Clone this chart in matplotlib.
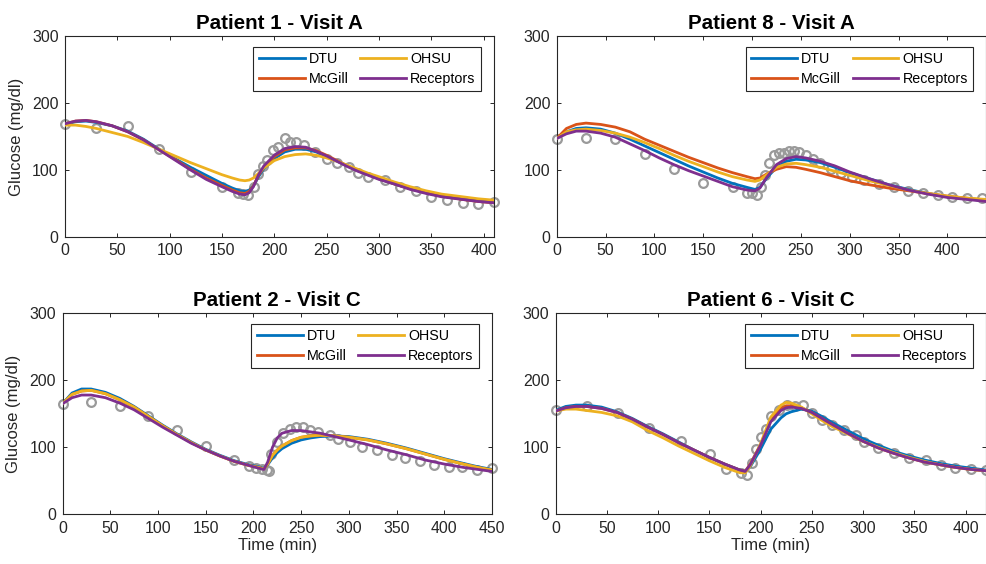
import numpy as np
import matplotlib
matplotlib.use("Agg")
import matplotlib.pyplot as plt

plt.rcParams['font.family'] = ['Liberation Sans', 'DejaVu Sans']

# model colours (DTU, McGill, OHSU, Receptors)
models = ['DTU', 'McGill', 'OHSU', 'Receptors']
colors = ['#0072BD', '#D95319', '#EDB120', '#7E2F8E']
obs_color = '#9a9a9a'
ink = '#262626'

# ---------------- Patient 1 - Visit A ----------------
p1_obs_t = [0, 30, 60, 90, 120, 150, 165, 170, 175, 181, 184, 189, 193, 199, 204, 210, 215, 221,
            228, 239, 250, 260, 271, 280, 290, 306, 320, 335, 350, 365, 380, 395, 410]
p1_obs_g = [169, 162, 165, 131, 97, 74, 66, 64, 62, 74, 94, 106, 115, 130, 135, 148, 142, 142,
            137, 127, 117, 110, 105, 95, 90, 85, 75, 69, 60, 55, 51, 50, 52]
p1_t = [0, 10, 20, 30, 45, 60, 75, 90, 105, 120, 135, 150, 160, 167, 172, 176, 180, 185, 190, 200,
        210, 220, 230, 240, 250, 260, 270, 280, 290, 300, 315, 330, 345, 360, 380, 395, 410]
p1_dtu = [168, 172, 173, 171, 166, 158, 146, 131, 117, 104, 92, 80, 73, 69, 68, 70, 76, 90, 102, 117,
          127, 131, 131, 127, 120, 113, 106, 99, 93, 87, 79, 72, 66, 61, 57, 54, 52]
p1_mcgill = [169, 173, 174, 172, 166, 157, 145, 130, 116, 101, 88, 77, 70, 66, 65, 68, 76, 92, 104, 120,
             130, 133, 133, 129, 122, 114, 106, 99, 93, 87, 79, 72, 66, 61, 56, 53, 51]
p1_ohsu = [167, 167, 165, 162, 156, 150, 141, 131, 121, 111, 102, 93, 88, 85, 84, 85, 88, 95, 103, 114,
           120, 123, 124, 122, 118, 113, 107, 101, 95, 90, 82, 75, 69, 64, 60, 57, 55]
p1_rec = [169, 173, 174, 172, 166, 157, 145, 130, 115, 100, 86, 75, 68, 64, 63, 66, 75, 93, 106, 122,
          132, 135, 134, 128, 121, 113, 105, 98, 92, 86, 79, 71, 65, 60, 56, 53, 51]

# ---------------- Patient 8 - Visit A ----------------
p8_obs_t = [0, 30, 60, 90, 120, 150, 180, 195, 200, 205, 209, 213, 217, 222, 228, 233, 238, 243,
            248, 255, 262, 270, 281, 291, 302, 315, 330, 345, 360, 375, 390, 405, 420, 435]
p8_obs_g = [147, 148, 146, 124, 101, 81, 74, 66, 65, 63, 74, 92, 110, 122, 125, 126, 128, 129,
            127, 122, 117, 110, 102, 95, 90, 85, 79, 74, 69, 66, 63, 60, 58, 58]
p8_t = [0, 10, 20, 30, 45, 60, 75, 90, 105, 120, 135, 150, 165, 180, 195, 203, 208, 215, 225, 235,
        245, 255, 270, 285, 300, 320, 340, 360, 380, 400, 420, 440]
p8_dtu = [147, 157, 162, 163, 161, 155, 146, 136, 126, 116, 106, 97, 88, 80, 74, 71, 74, 88, 104, 113,
          116, 115, 111, 104, 96, 87, 78, 71, 65, 60, 57, 54]
p8_mcgill = [147, 162, 168, 170, 168, 164, 157, 146, 137, 128, 119, 111, 103, 96, 90, 87, 88, 94, 101, 105,
             104, 101, 96, 90, 84, 78, 73, 69, 65, 61, 58, 55]
p8_ohsu = [147, 157, 160, 161, 159, 155, 149, 141, 132, 122, 113, 105, 97, 90, 85, 83, 85, 93, 104, 109,
           110, 108, 104, 98, 92, 84, 77, 70, 65, 61, 58, 56]
p8_rec = [147, 154, 158, 158, 155, 149, 139, 129, 118, 108, 99, 91, 83, 75, 70, 69, 73, 89, 108, 117,
          120, 118, 113, 106, 97, 87, 78, 70, 64, 59, 56, 53]

# ---------------- Patient 2 - Visit C ----------------
p2_obs_t = [0, 30, 60, 90, 120, 150, 180, 195, 203, 209, 214, 216, 218, 225, 231, 238, 245, 252,
            259, 268, 280, 289, 301, 314, 329, 345, 359, 375, 389, 405, 419, 434, 450]
p2_obs_g = [165, 168, 161, 146, 126, 102, 81, 72, 69, 67, 66, 65, 90, 108, 121, 128, 131, 130,
            126, 123, 118, 113, 108, 101, 96, 89, 84, 79, 73, 70, 71, 66, 69]
p2_t = [0, 10, 20, 30, 45, 60, 75, 90, 105, 120, 135, 150, 165, 180, 195, 205, 211, 215, 220, 225,
        230, 240, 250, 260, 270, 285, 300, 320, 340, 360, 380, 400, 420, 435, 450]
p2_dtu = [165, 181, 187, 187, 182, 173, 161, 147, 133, 120, 108, 97, 88, 80, 74, 71, 69, 74, 84, 92,
          98, 106, 111, 114, 116, 117, 116, 112, 106, 99, 91, 83, 76, 71, 67]
p2_mcgill = [165, 179, 184, 185, 180, 171, 160, 146, 132, 119, 107, 96, 87, 79, 73, 70, 68, 75, 88, 96,
             102, 110, 115, 117, 118, 117, 115, 111, 105, 98, 90, 82, 75, 70, 66]
p2_ohsu = [165, 179, 184, 185, 180, 171, 160, 146, 132, 119, 107, 96, 87, 79, 73, 70, 68, 75, 88, 96,
           102, 110, 115, 117, 118, 117, 115, 111, 105, 98, 90, 82, 75, 70, 66]
p2_rec = [165, 174, 178, 178, 174, 166, 156, 143, 130, 118, 106, 96, 87, 79, 73, 69, 67, 78, 100, 114,
          121, 125, 125, 123, 121, 116, 111, 104, 96, 89, 81, 75, 70, 67, 64]

# ---------------- Patient 6 - Visit C ----------------
p6_obs_t = [0, 31, 61, 91, 122, 151, 166, 181, 187, 192, 196, 200, 205, 210, 218, 226, 234, 241,
            250, 260, 270, 281, 293, 301, 315, 330, 345, 361, 376, 390, 405, 420]
p6_obs_g = [155, 162, 151, 129, 109, 90, 67, 62, 59, 76, 97, 116, 128, 146, 156, 163, 162, 163,
            151, 141, 133, 126, 118, 108, 99, 91, 84, 81, 74, 69, 67, 66]
p6_t = [0, 10, 20, 30, 45, 60, 75, 90, 105, 120, 135, 150, 165, 180, 185, 190, 200, 210, 220, 225,
        230, 240, 250, 260, 270, 285, 300, 315, 330, 345, 360, 375, 390, 405, 420]
p6_dtu = [155, 161, 163, 163, 160, 153, 143, 131, 120, 108, 96, 85, 75, 66, 64, 71, 97, 127, 144, 150,
          153, 157, 154, 146, 137, 125, 113, 103, 94, 87, 81, 76, 72, 69, 66]
p6_mcgill = [154, 159, 161, 161, 158, 152, 142, 130, 119, 107, 96, 85, 75, 66, 64, 75, 104, 140, 158, 162,
             162, 159, 152, 143, 134, 121, 109, 99, 91, 84, 78, 74, 70, 67, 65]
p6_ohsu = [154, 157, 157, 155, 152, 147, 138, 125, 114, 102, 91, 80, 70, 62, 62, 72, 105, 145, 163, 167,
           166, 160, 150, 140, 131, 120, 109, 100, 92, 85, 79, 74, 70, 67, 65]
p6_rec = [154, 159, 161, 161, 158, 152, 142, 130, 119, 107, 96, 85, 75, 66, 64, 74, 103, 138, 155, 159,
          160, 158, 152, 143, 134, 121, 109, 99, 91, 84, 78, 74, 70, 67, 65]

panels = [
    ('Patient 1 - Visit A', 410, p1_obs_t, p1_obs_g, p1_t, [p1_dtu, p1_mcgill, p1_ohsu, p1_rec]),
    ('Patient 8 - Visit A', 440, p8_obs_t, p8_obs_g, p8_t, [p8_dtu, p8_mcgill, p8_ohsu, p8_rec]),
    ('Patient 2 - Visit C', 450, p2_obs_t, p2_obs_g, p2_t, [p2_dtu, p2_mcgill, p2_ohsu, p2_rec]),
    ('Patient 6 - Visit C', 420, p6_obs_t, p6_obs_g, p6_t, [p6_dtu, p6_mcgill, p6_ohsu, p6_rec]),
]

W, H = 987, 564
fig = plt.figure(figsize=(W / 100, H / 100), dpi=100)

# axes boxes in pixels: left, right, top, bottom
boxes = [(65, 494, 36, 237), (556.7, 986.5, 36, 237),
         (62.5, 492, 313.3, 514.3), (555.5, 986, 313.3, 514.3)]

for i, (title, tmax, ot, og, mt, series) in enumerate(panels):
    l, r, t, b = boxes[i]
    ax = fig.add_axes([l / W, (H - b) / H, (r - l) / W, (b - t) / H])

    ax.plot(ot, og, 'o', ms=6.3, mfc='none', mec=obs_color, mew=1.6, clip_on=False, zorder=2)
    for name, c, g in zip(models, colors, series):
        ax.plot(mt, g, '-', color=c, lw=2.0, label=name, zorder=3)

    ax.set_xlim(0, tmax)
    ax.set_ylim(0, 300)
    ax.set_yticks([0, 100, 200, 300])
    ax.set_xticks(np.arange(0, tmax + 1, 50))
    ax.tick_params(direction='in', top=True, right=True, length=3, width=0.7,
                   colors=ink, labelsize=11.4, labelcolor=ink)
    ax.tick_params(axis='x', pad=4.5)
    ax.tick_params(axis='y', pad=4.5)
    for s in ax.spines.values():
        s.set_color(ink)
        s.set_linewidth(0.8)

    ax.set_title(title, fontsize=14.8, fontweight='bold', color='black', pad=5)
    if i in (0, 2):
        ax.set_ylabel('Glucose (mg/dl)', fontsize=12, color=ink, labelpad=6)
    if i in (2, 3):
        ax.set_xlabel('Time (min)', fontsize=12, color=ink, labelpad=2)

    aw, ah = r - l, b - t
    leg = ax.legend(ncol=2, loc='upper right', bbox_to_anchor=(1 - 13 / aw, 1 - 10.7 / ah),
                    borderaxespad=0, fontsize=10.3, handlelength=3.2, handletextpad=0.3,
                    columnspacing=0.8, labelspacing=0.38, borderpad=0.38,
                    fancybox=False, framealpha=1, edgecolor=ink)
    leg.get_frame().set_linewidth(0.8)
    for txt in leg.get_texts():
        txt.set_color('black')

fig.savefig('out.png', dpi=100)
